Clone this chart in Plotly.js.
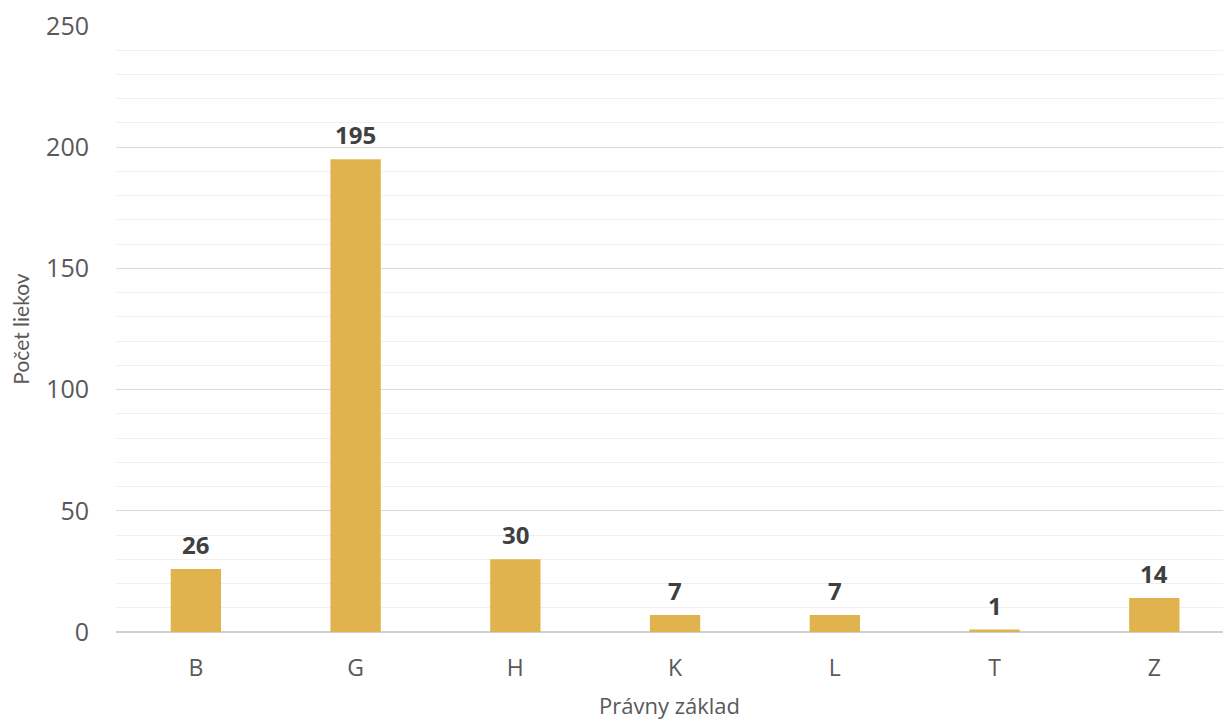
<!DOCTYPE html>
<html>
<head>
<meta charset="utf-8">
<script src="https://cdn.plot.ly/plotly-3.0.1.min.js"></script>
<style>html,body{margin:0;padding:0;background:#fff;}#chart{width:1223px;height:720px;}</style>
</head>
<body>
<div id="chart"></div>
<script>
var categories = ["B", "G", "H", "K", "L", "T", "Z"];
var counts = [26, 195, 30, 7, 7, 1, 14];
var xTitle = "Právny základ";
var yTitle = "Počet liekov";

var trace = {
  type: "bar",
  x: categories,
  y: counts,
  width: 0.315,
  marker: {color: "#E1B34F"},
  hoverinfo: "skip"
};

var annotations = categories.map(function (c, i) {
  return {
    x: c, y: counts[i], xref: "x", yref: "y",
    text: String(counts[i]),
    showarrow: false,
    yanchor: "bottom",
    yshift: 6,
    font: {family: "'Open Sans', Lato, sans-serif", size: 24, color: "#404040", weight: 700}
  };
});

var layout = {
  width: 1223,
  height: 720,
  margin: {l: 116, r: 0, t: 26, b: 88},
  paper_bgcolor: "#ffffff",
  plot_bgcolor: "#ffffff",
  font: {family: "'Open Sans', Lato, sans-serif", color: "#595959"},
  showlegend: false,
  annotations: annotations,
  xaxis: {
    type: "category",
    range: [-0.5, 6.43],
    tickfont: {size: 23, color: "#595959"},
    ticks: "",
    ticklabelstandoff: 20,
    showgrid: false,
    showline: false,
    zeroline: false,
    title: {text: xTitle, font: {size: 22, color: "#595959"}, standoff: 17}
  },
  yaxis: {
    range: [0, 250],
    dtick: 50,
    tick0: 0,
    tickfont: {size: 25, color: "#595959"},
    ticks: "",
    ticklabelstandoff: 26,
    showgrid: true,
    gridcolor: "#d9d9d9",
    gridwidth: 1,
    minor: {dtick: 10, showgrid: true, gridcolor: "#f0f0f0", gridwidth: 1},
    zeroline: true,
    zerolinecolor: "#d0d0d0",
    zerolinewidth: 2,
    showline: false,
    title: {text: yTitle, font: {family: "Lato, sans-serif", size: 21, color: "#595959"}, standoff: 10}
  }
};

Plotly.newPlot("chart", [trace], layout, {displayModeBar: false, staticPlot: true});
</script>
</body>
</html>
